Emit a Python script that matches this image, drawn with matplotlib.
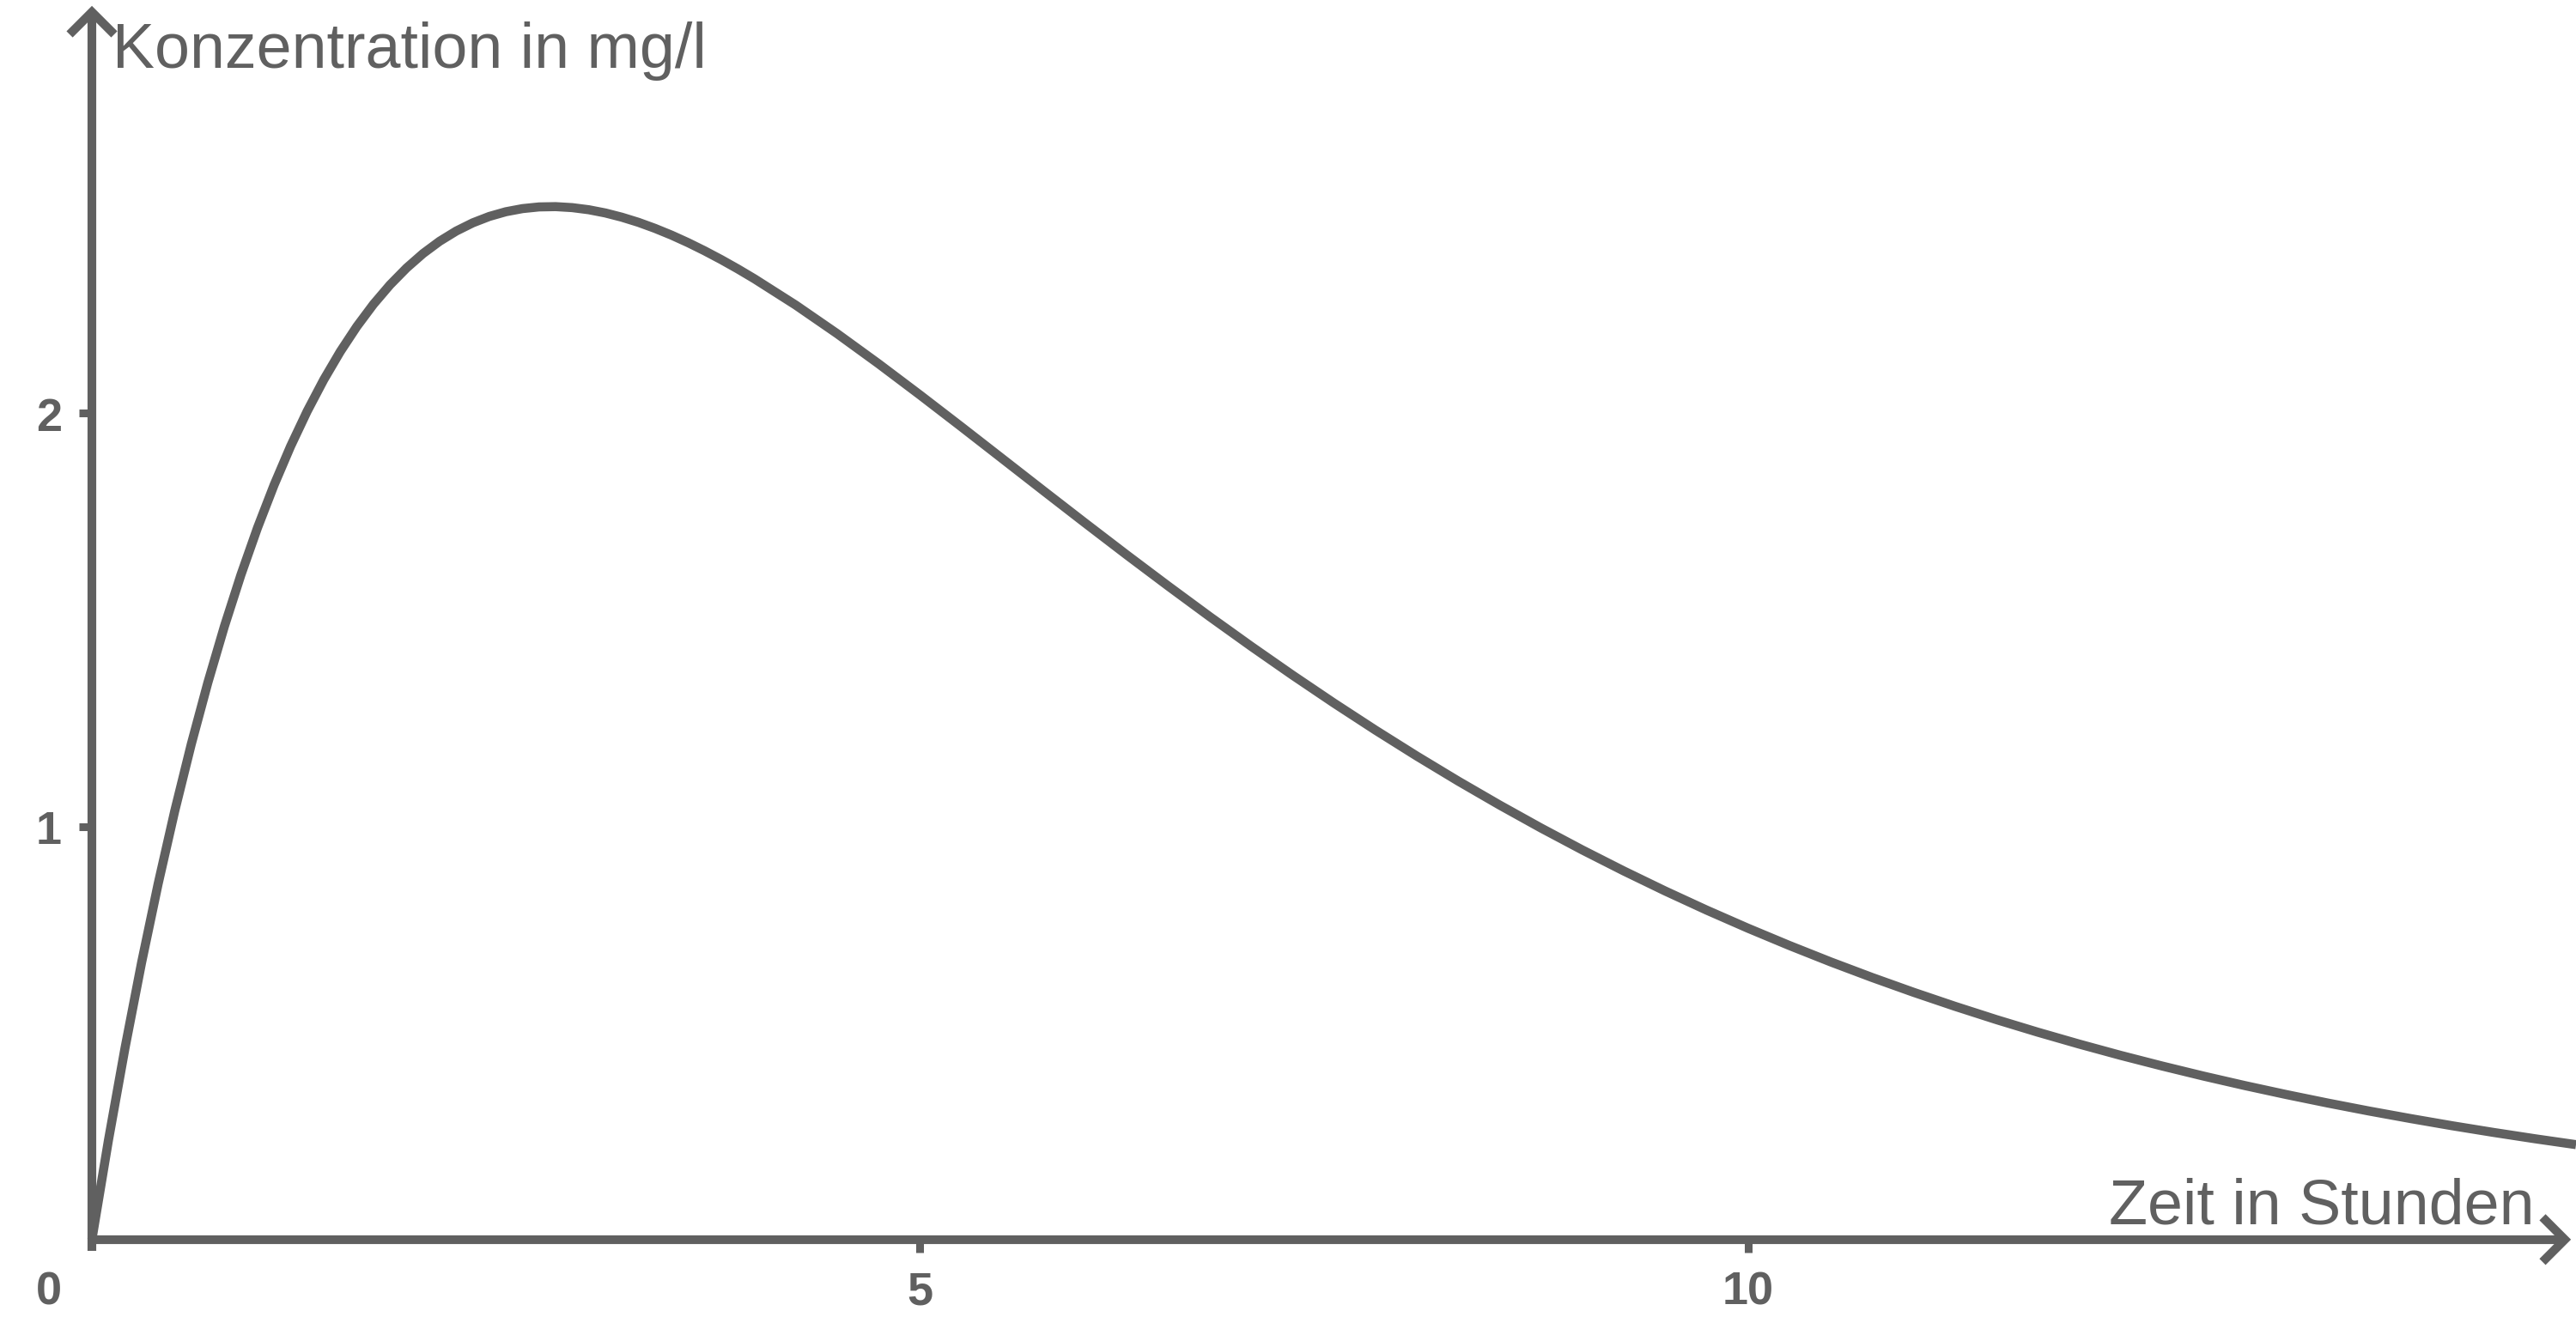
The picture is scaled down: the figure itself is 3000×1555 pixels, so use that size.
import matplotlib
matplotlib.use('Agg')
import matplotlib.pyplot as plt

plt.rcParams['font.family'] = ['Liberation Sans', 'DejaVu Sans']

# ---- data ----
zeit = [0.0, 0.1, 0.2, 0.3, 0.4, 0.5, 0.6, 0.7, 0.8, 0.9,
        1.0, 1.1, 1.2, 1.3, 1.4, 1.5, 1.6, 1.7, 1.8, 1.9,
        2.0, 2.1, 2.2, 2.3, 2.4, 2.5, 2.6, 2.7, 2.8, 2.9,
        3.0, 3.1, 3.2, 3.3, 3.4, 3.5, 3.6, 3.7, 3.8, 3.9,
        4.0, 4.25, 4.5, 4.75, 5.0, 5.25, 5.5, 5.75, 6.0, 6.25,
        6.5, 6.75, 7.0, 7.25, 7.5, 7.75, 8.0, 8.25, 8.5, 8.75,
        9.0, 9.25, 9.5, 9.75, 10.0, 10.25, 10.5, 10.75, 11.0, 11.25,
        11.5, 11.75, 12.0, 12.25, 12.5, 12.75, 13.0, 13.25, 13.5, 13.75,
        14.0, 14.25, 14.5, 14.75, 15.0]
konzentration = [0.0, 0.2408, 0.4639, 0.6704, 0.8611, 1.0370, 1.1989, 1.3477, 1.4841, 1.6089,
                 1.7227, 1.8262, 1.9201, 2.0048, 2.0810, 2.1492, 2.2099, 2.2636, 2.3106, 2.3514,
                 2.3865, 2.4162, 2.4408, 2.4607, 2.4762, 2.4876, 2.4951, 2.4992, 2.4999, 2.4975,
                 2.4924, 2.4846, 2.4743, 2.4619, 2.4473, 2.4309, 2.4127, 2.3929, 2.3717, 2.3492,
                 2.3254, 2.2616, 2.1925, 2.1197, 2.0442, 1.9671, 1.8891, 1.8110, 1.7334, 1.6567,
                 1.5814, 1.5076, 1.4358, 1.3660, 1.2984, 1.2331, 1.1702, 1.1097, 1.0517, 0.9961,
                 0.9429, 0.8921, 0.8436, 0.7974, 0.7535, 0.7117, 0.6719, 0.6342, 0.5984, 0.5645,
                 0.5323, 0.5019, 0.4731, 0.4458, 0.4201, 0.3957, 0.3727, 0.3510, 0.3305, 0.3111,
                 0.2929, 0.2756, 0.2594, 0.2441, 0.2297]
x_ticks = [5, 10]
y_ticks = [1, 2]
origin_label = '0'
x_label = 'Zeit in Stunden'
y_label = 'Konzentration in mg/l'

# ---- style ----
GRAY = '#606060'
W, H = 3000, 1555
AX_LW = 7.3
CURVE_LW = 7.6

fig = plt.figure(figsize=(W / 100, H / 100), dpi=100)
ax = fig.add_axes([0, 0, 1, 1])
ax.set_xlim(-0.555, 15.0)
ax.set_ylim(-0.231, 3.0)
ax.axis('off')

# curve
ax.plot(zeit, konzentration, color=GRAY, lw=CURVE_LW,
        solid_joinstyle='round', solid_capstyle='butt', zorder=3)

# origin in axes fraction
ox, oy = ax.transAxes.inverted().transform(ax.transData.transform((0, 0)))
x_tip = 2987 / W
y_tip = 1 - 14 / H

# x axis
ax.plot([ox, x_tip], [oy, oy], transform=ax.transAxes, color=GRAY, lw=AX_LW,
        solid_capstyle='butt', zorder=2)
# y axis (slightly below the x axis up to the arrow)
ax.plot([ox, ox], [oy - 13 / H, y_tip], transform=ax.transAxes, color=GRAY,
        lw=AX_LW, solid_capstyle='butt', zorder=2)

# arrow heads (open chevrons)
arm = 26
ax.plot([x_tip - arm / W, x_tip, x_tip - arm / W],
        [oy + arm / H, oy, oy - arm / H],
        transform=ax.transAxes, color=GRAY, lw=AX_LW,
        solid_joinstyle='miter', solid_capstyle='butt', zorder=2)
ax.plot([ox - arm / W, ox, ox + arm / W],
        [y_tip - arm / H, y_tip, y_tip - arm / H],
        transform=ax.transAxes, color=GRAY, lw=AX_LW,
        solid_joinstyle='miter', solid_capstyle='butt', zorder=2)

# ticks
ax.plot(x_ticks, [0] * len(x_ticks), linestyle='none', marker=3,
        markersize=10.5, markeredgewidth=6.5, color=GRAY, zorder=2)
ax.plot([0] * len(y_ticks), y_ticks, linestyle='none', marker=0,
        markersize=10.5, markeredgewidth=6.5, color=GRAY, zorder=2)

# tick labels
TICK_FS = 39
for v in x_ticks:
    ax.annotate(str(v), xy=(v, 0), xytext=(0, -54.5), textcoords='offset points',
                ha='center', va='baseline', fontsize=TICK_FS, fontweight='bold',
                color=GRAY)
for v in y_ticks:
    ax.annotate(str(v), xy=(0, v), xytext=(-36, -15), textcoords='offset points',
                ha='center', va='baseline', fontsize=TICK_FS, fontweight='bold',
                color=GRAY)
ax.annotate(origin_label, xy=(0, 0), xytext=(-36, -54.5), textcoords='offset points',
            ha='center', va='baseline', fontsize=TICK_FS, fontweight='bold',
            color=GRAY)

# axis labels
LABEL_FS = 53
ax.text(131 / W, 1 - 79 / H, y_label, transform=ax.transAxes, ha='left',
        va='baseline', fontsize=LABEL_FS, color=GRAY)
ax.text(2952 / W, 1 - 1425 / H, x_label, transform=ax.transAxes, ha='right',
        va='baseline', fontsize=LABEL_FS, color=GRAY)

fig.savefig('out.png', dpi=100, facecolor='white')
